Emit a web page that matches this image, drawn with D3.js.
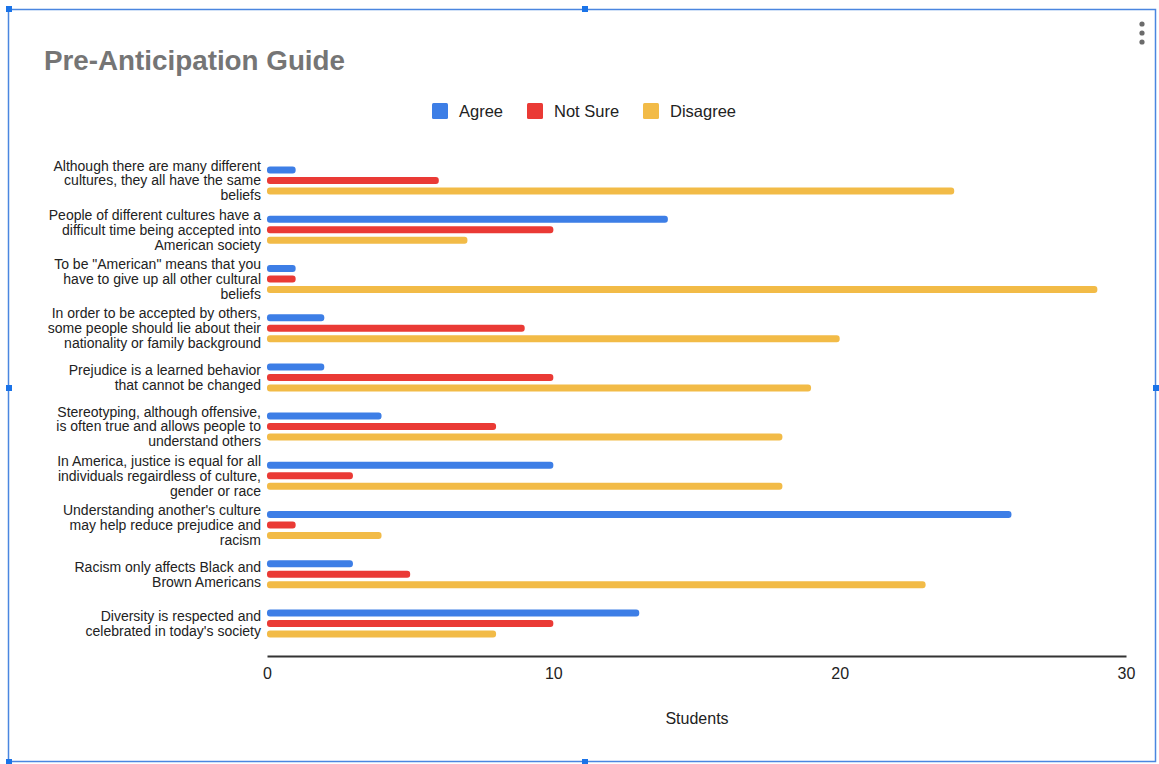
<!DOCTYPE html>
<html>
<head>
<meta charset="utf-8">
<script src="https://d3js.org/d3.v7.min.js"></script>
<style>
  body { margin: 0; background: #fff; }
  text { font-family: "Liberation Sans", Arial, sans-serif; }
</style>
</head>
<body>
<script>
// question labels, already broken into lines the way the chart wraps them
const categories = [
  ["Although there are many different", "cultures, they all have the same", "beliefs"],
  ["People of different cultures have a", "difficult time being accepted into", "American society"],
  ["To be \"American\" means that you", "have to give up all other cultural", "beliefs"],
  ["In order to be accepted by others,", "some people should lie about their", "nationality or family background"],
  ["Prejudice is a learned behavior", "that cannot be changed"],
  ["Stereotyping, although offensive,", "is often true and allows people to", "understand others"],
  ["In America, justice is equal for all", "individuals regairdless of culture,", "gender or race"],
  ["Understanding another's culture", "may help reduce prejudice and", "racism"],
  ["Racism only affects Black and", "Brown Americans"],
  ["Diversity is respected and", "celebrated in today's society"]
]
const series = ["Agree", "Not Sure", "Disagree"]
const agree    = [1, 14, 1, 2, 2, 4, 10, 26, 3, 13]
const notSure  = [6, 10, 1, 9, 10, 8, 3, 1, 5, 10]
const disagree = [24, 7, 29, 20, 19, 18, 18, 4, 23, 8]
const xTicks = [0, 10, 20, 30]
const colors = ["#3d7ee6", "#ea3a35", "#f2bb47"]

const W = 1159, H = 764
const values = [agree, notSure, disagree]
const rows = categories.map((c, i) => ({ i, lines: c, vals: values.map(v => v[i]) }))

const svg = d3.select("body").append("svg")
  .attr("width", W).attr("height", H)

// selection frame of the embedded chart
svg.append("rect").attr("x", 8.5).attr("y", 9.5).attr("width", 1147).attr("height", 752)
  .attr("fill", "none").attr("stroke", "#4a86e0").attr("stroke-width", 1.5)
const handles = [[9, 9], [585, 9], [1156, 388], [9, 388], [585, 762], [9, 762]]
svg.selectAll(".handle").data(handles).enter().append("rect")
  .attr("class", "handle")
  .attr("x", d => d[0] - 3).attr("y", d => d[1] - 3)
  .attr("width", 6).attr("height", 6)
  .attr("fill", "#1a73e8")

// three dot menu
svg.selectAll(".dot").data([24, 33, 42]).enter().append("circle")
  .attr("cx", 1142).attr("cy", d => d).attr("r", 2.6).attr("fill", "#6b6b6b")

// title
svg.append("text").attr("x", 44).attr("y", 70)
  .attr("font-size", 27).attr("font-weight", "bold").attr("fill", "#757575")
  .attr("textLength", 301).attr("lengthAdjust", "spacingAndGlyphs")
  .text("Pre-Anticipation Guide")

// legend
const legendX = [432, 527, 643]
const legend = svg.selectAll(".leg").data(series).enter().append("g")
  .attr("transform", (d, i) => `translate(${legendX[i]},111)`)
legend.append("rect").attr("x", 0).attr("y", -8).attr("width", 16).attr("height", 16)
  .attr("rx", 1.5).attr("fill", (d, i) => colors[i])
legend.append("text").attr("x", 27).attr("y", 0).attr("dy", "0.35em")
  .attr("font-size", 16.5).attr("fill", "#222").text(d => d)

// scales
const x = d3.scaleLinear().domain([0, 30]).range([267, 1126])
const y0 = d3.scaleBand().domain(d3.range(categories.length)).range([156, 648])
  .paddingInner(0.36).paddingOuter(0.18)
const y1 = d3.scaleBand().domain(d3.range(series.length)).range([0, y0.bandwidth()])
  .paddingInner(0.333).paddingOuter(0.167)

// bars
const groups = svg.selectAll(".grp").data(rows).enter().append("g")
  .attr("class", "grp")
  .attr("transform", d => `translate(0,${y0(d.i)})`)
groups.selectAll("rect").data(d => d.vals).enter().append("rect")
  .attr("x", x(0))
  .attr("y", (d, j) => y1(j))
  .attr("width", d => x(d) - x(0))
  .attr("height", y1.bandwidth())
  .attr("rx", 3)
  .attr("fill", (d, j) => colors[j])

// category labels
const lineH = 15
groups.append("text")
  .attr("text-anchor", "end").attr("font-size", 14).attr("fill", "#222")
  .each(function (d) {
    const t = d3.select(this)
    const c = y0.bandwidth() / 2
    d.lines.forEach((ln, k) => {
      t.append("tspan").attr("x", 261)
        .attr("y", c + (k - (d.lines.length - 1) / 2) * lineH)
        .attr("dy", "0.35em").text(ln)
    })
  })

// x axis
const axis = svg.append("g").attr("transform", "translate(0,656)")
  .call(d3.axisBottom(x).tickValues(xTicks).tickSize(0).tickPadding(12))
axis.select(".domain").attr("stroke", "#333").attr("stroke-width", 2)
axis.selectAll("text").attr("font-size", 16).attr("fill", "#222")
  .attr("font-family", "'Liberation Sans', Arial, sans-serif")

svg.append("text").attr("x", 697).attr("y", 718).attr("dy", "0.35em")
  .attr("text-anchor", "middle").attr("font-size", 16).attr("fill", "#222")
  .text("Students")
</script>
</body>
</html>
